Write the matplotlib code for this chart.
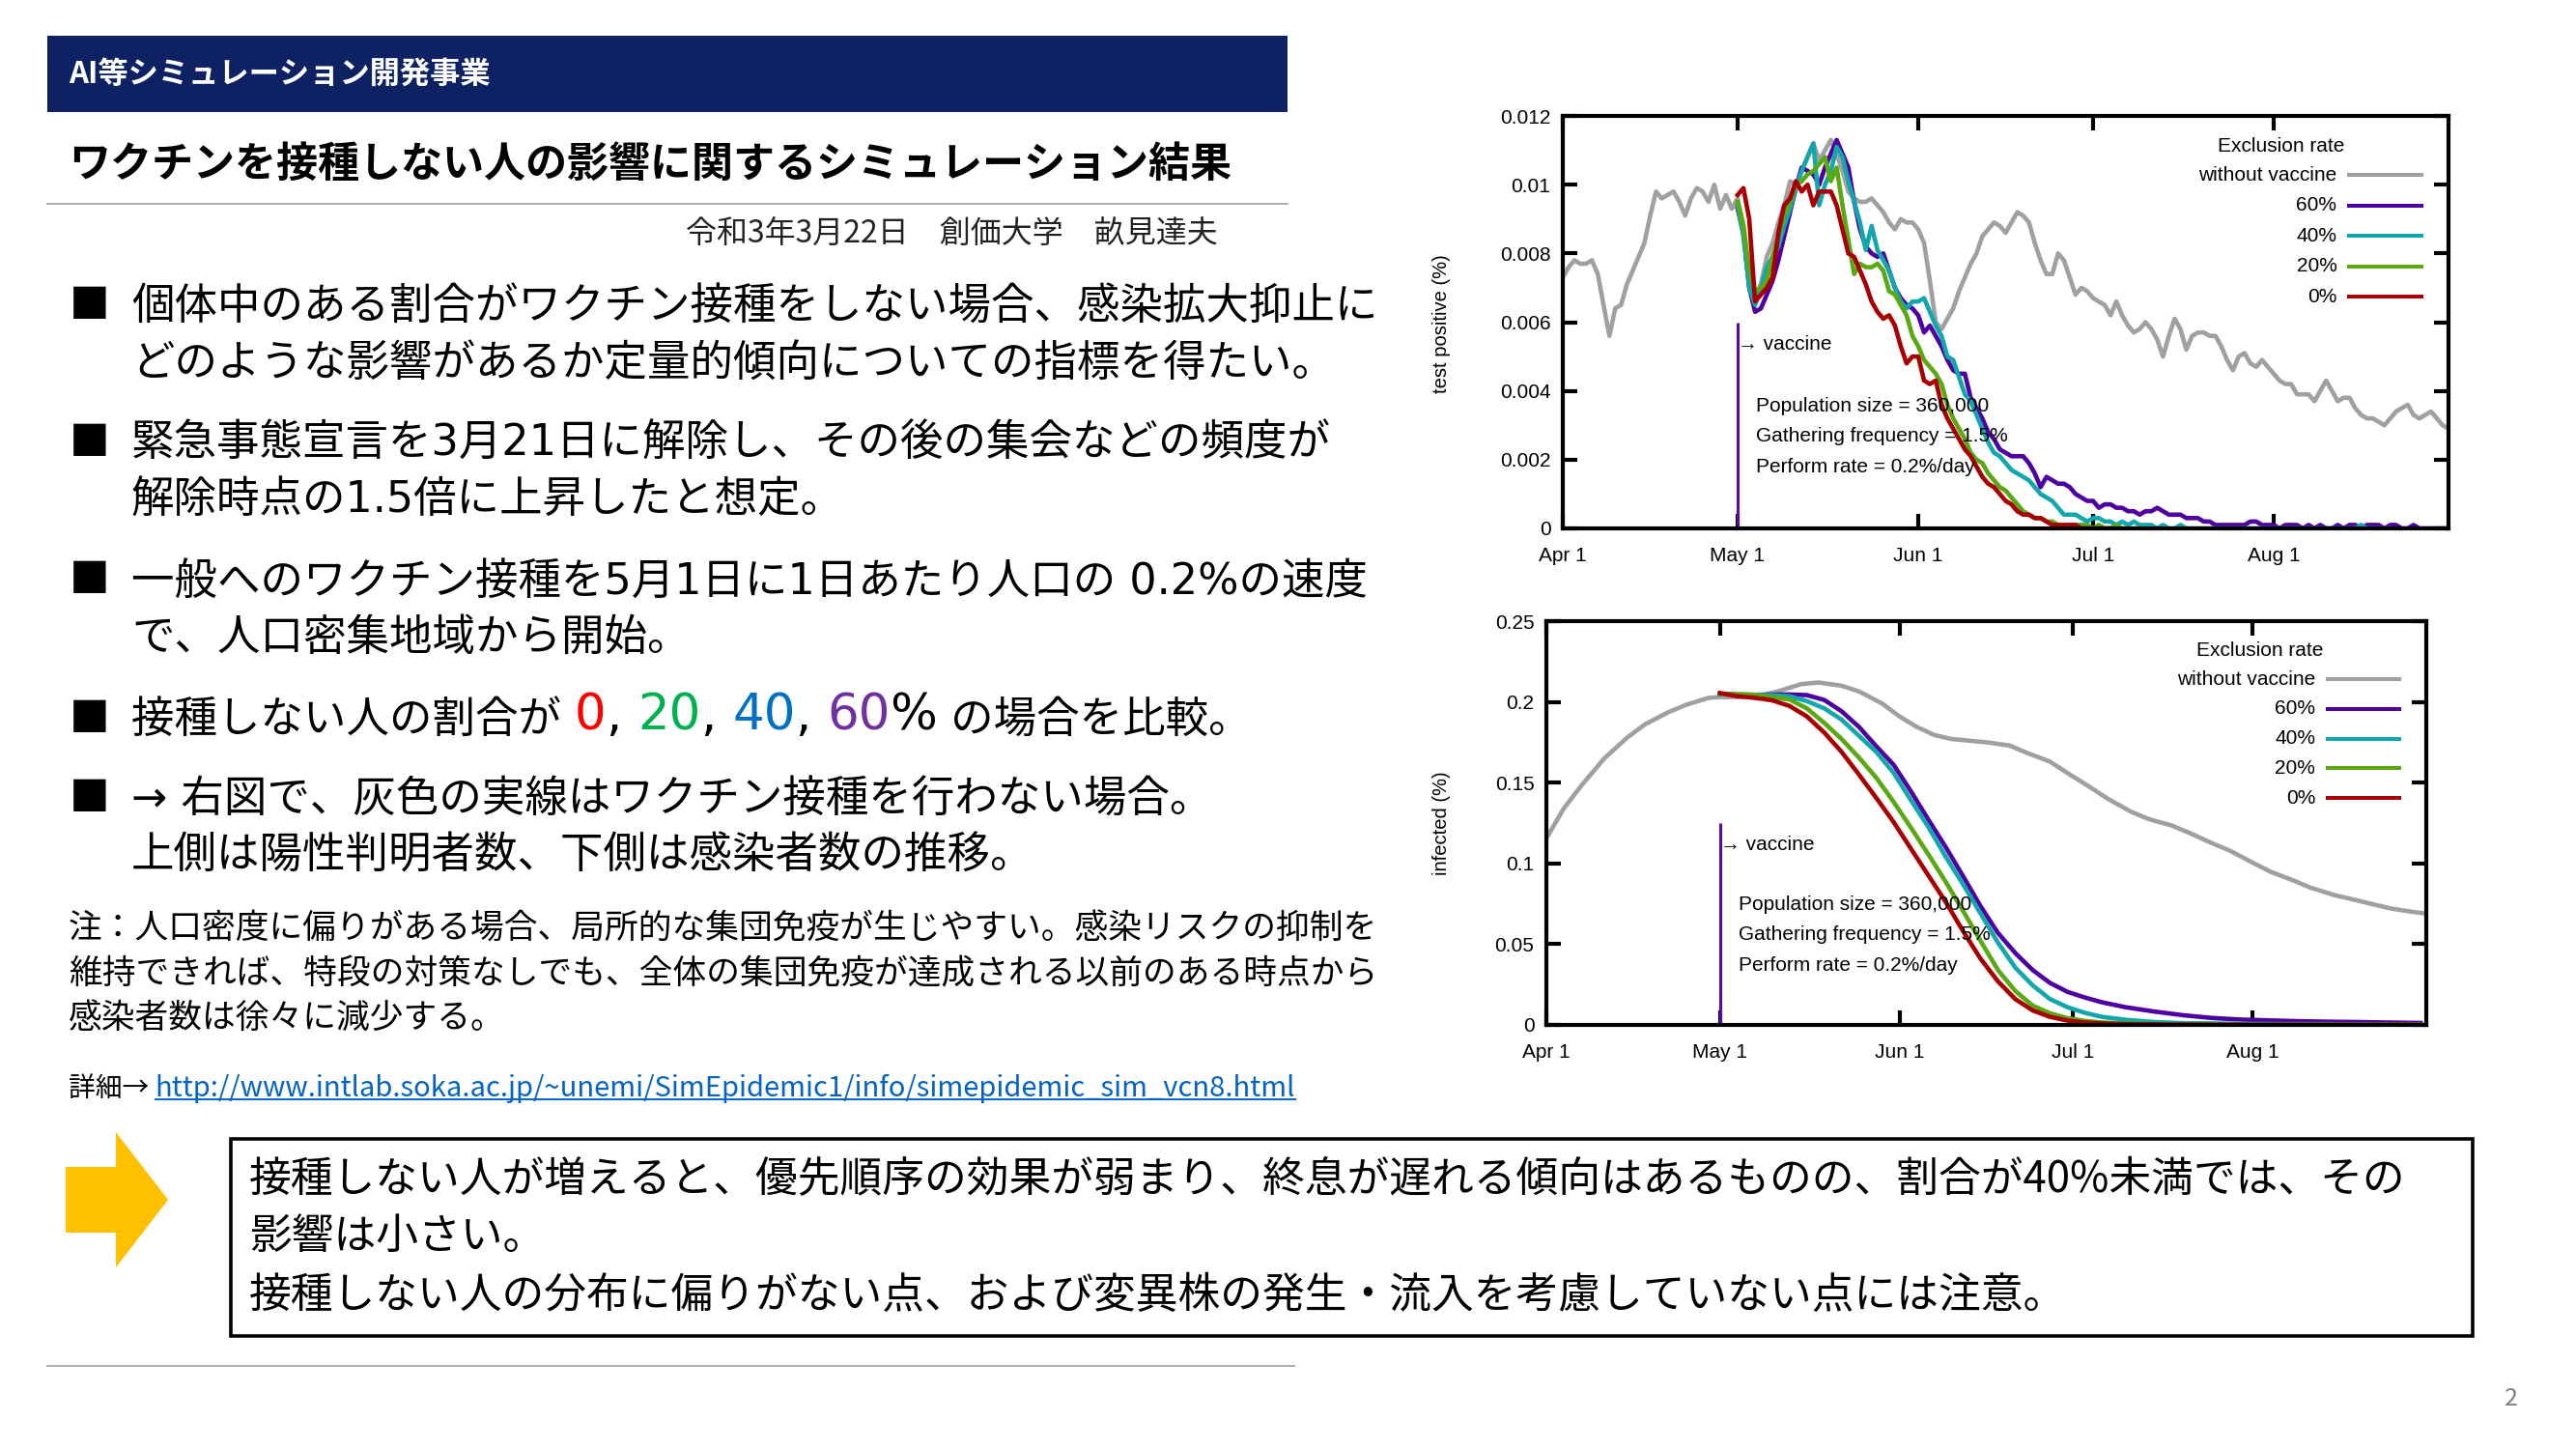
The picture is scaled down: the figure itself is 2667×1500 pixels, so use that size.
import numpy as np
import matplotlib.pyplot as plt
from matplotlib.patches import Rectangle, Polygon

plt.rcParams['font.family'] = ['Noto Sans CJK JP', 'DejaVu Sans']

W, H = 2667, 1500

# ---------------- chart data ----------------
month_days = [0, 30, 61, 91, 122]
month_labels = ['Apr 1', 'May 1', 'Jun 1', 'Jul 1', 'Aug 1']
vaccine_day = 30

legend_names = ['without vaccine', '60%', '40%', '20%', '0%']
line_colors = ['#a0a0a0', '#4f00a0', '#12a7ad', '#5aa812', '#a80000']

# top chart: test positive (%), one value per day from Apr 1
pos_nov = [0.0073, 0.0076, 0.0078, 0.0077, 0.0077, 0.0078, 0.0074, 0.0065, 0.0056, 0.0064,
           0.0065, 0.0071, 0.0075, 0.0079, 0.0083, 0.0091, 0.0098, 0.0096, 0.0097, 0.0098,
           0.0095, 0.0091, 0.0096, 0.0099, 0.0098, 0.0095, 0.0100, 0.0093, 0.0097, 0.0093,
           0.0096, 0.0088, 0.0072, 0.0068, 0.0071, 0.0079, 0.0083, 0.0089, 0.0094, 0.0101,
           0.0100, 0.0104, 0.0108, 0.0112, 0.0107, 0.0110, 0.0113, 0.0109, 0.0104, 0.0098,
           0.0096, 0.0095, 0.0095, 0.0096, 0.0094, 0.0092, 0.0089, 0.0087, 0.0090, 0.0089,
           0.0089, 0.0087, 0.0083, 0.0072, 0.0060, 0.0058, 0.0061, 0.0064, 0.0069, 0.0073,
           0.0077, 0.0080, 0.0085, 0.0087, 0.0089, 0.0088, 0.0086, 0.0089, 0.0092, 0.0091,
           0.0089, 0.0083, 0.0078, 0.0074, 0.0074, 0.0080, 0.0078, 0.0073, 0.0068, 0.0070,
           0.0069, 0.0067, 0.0066, 0.0065, 0.0062, 0.0066, 0.0062, 0.0059, 0.0057, 0.0058,
           0.0060, 0.0058, 0.0055, 0.0050, 0.0056, 0.0061, 0.0058, 0.0052, 0.0056, 0.0057,
           0.0057, 0.0056, 0.0056, 0.0053, 0.0049, 0.0046, 0.0050, 0.0051, 0.0048, 0.0047,
           0.0049, 0.0047, 0.0045, 0.0043, 0.0042, 0.0042, 0.0039, 0.0039, 0.0039, 0.0037,
           0.0040, 0.0043, 0.0040, 0.0037, 0.0038, 0.0038, 0.0035, 0.0033, 0.0032, 0.0032,
           0.0031, 0.0030, 0.0032, 0.0034, 0.0035, 0.0036, 0.0033, 0.0032, 0.0033, 0.0034,
           0.0032, 0.0030, 0.0029]

# vaccinated runs, one value per day from May 1
pos_60 = [0.0093, 0.0086, 0.0070, 0.0063, 0.0064, 0.0068, 0.0072, 0.0078, 0.0085, 0.0092,
          0.0099, 0.0105, 0.0104, 0.0103, 0.0100, 0.0105, 0.0109, 0.0113, 0.0109, 0.0105,
          0.0095, 0.0087, 0.0082, 0.0080, 0.0079, 0.0080, 0.0075, 0.0070, 0.0067, 0.0065,
          0.0064, 0.0062, 0.0057, 0.0059, 0.0056, 0.0053, 0.0049, 0.0046, 0.0045, 0.0045,
          0.0038, 0.0035, 0.0032, 0.0028, 0.0026, 0.0023, 0.0022, 0.0021, 0.0021, 0.0021,
          0.0019, 0.0016, 0.0012, 0.0015, 0.0014, 0.0013, 0.0013, 0.0012, 0.0010, 0.0009,
          0.0008, 0.0008, 0.0006, 0.0007, 0.0007, 0.0006, 0.0006, 0.0005, 0.0005, 0.0004,
          0.0005, 0.0005, 0.0006, 0.0005, 0.0004, 0.0004, 0.0004, 0.0003, 0.0003, 0.0003,
          0.0002, 0.0002, 0.0001, 0.0001, 0.0001, 0.0001, 0.0001, 0.0001, 0.0002, 0.0002,
          0.0001, 0.0001, 0.0001, 0.0000, 0.0001, 0.0001, 0.0001, 0.0000, 0.0001, 0.0000,
          0.0001, 0.0000, 0.0000, 0.0001, 0.0000, 0.0001, 0.0001, 0.0000, 0.0001, 0.0001,
          0.0001, 0.0000, 0.0001, 0.0001, 0.0000, 0.0000, 0.0001, 0.0000, 0.0000, 0.0000,
          0.0000, 0.0000, 0.0000]
pos_40 = [0.0094, 0.0085, 0.0070, 0.0065, 0.0070, 0.0076, 0.0079, 0.0082, 0.0088, 0.0093,
          0.0099, 0.0104, 0.0108, 0.0112, 0.0094, 0.0100, 0.0104, 0.0111, 0.0108, 0.0101,
          0.0095, 0.0089, 0.0081, 0.0088, 0.0081, 0.0078, 0.0075, 0.0070, 0.0066, 0.0064,
          0.0066, 0.0066, 0.0067, 0.0063, 0.0059, 0.0056, 0.0050, 0.0049, 0.0044, 0.0039,
          0.0037, 0.0033, 0.0029, 0.0025, 0.0022, 0.0021, 0.0019, 0.0017, 0.0016, 0.0015,
          0.0014, 0.0012, 0.0010, 0.0009, 0.0008, 0.0006, 0.0004, 0.0004, 0.0004, 0.0003,
          0.0002, 0.0003, 0.0003, 0.0002, 0.0002, 0.0001, 0.0002, 0.0001, 0.0002, 0.0001,
          0.0001, 0.0001, 0.0000, 0.0001, 0.0000, 0.0000, 0.0001, 0.0000, 0.0000, 0.0000,
          0.0000, 0.0000, 0.0000, 0.0000, 0.0000, 0.0000, 0.0000, 0.0000, 0.0000, 0.0000,
          0.0000, 0.0000, 0.0000, 0.0000, 0.0000, 0.0000, 0.0000, 0.0000, 0.0000, 0.0000,
          0.0000, 0.0000, 0.0000, 0.0000, 0.0000, 0.0000, 0.0000, 0.0001, 0.0000, 0.0000,
          0.0000, 0.0000, 0.0000]
pos_20 = [0.0095, 0.0088, 0.0075, 0.0069, 0.0070, 0.0072, 0.0079, 0.0085, 0.0091, 0.0095,
          0.0100, 0.0101, 0.0103, 0.0104, 0.0106, 0.0108, 0.0101, 0.0105, 0.0094, 0.0084,
          0.0074, 0.0077, 0.0076, 0.0076, 0.0077, 0.0075, 0.0069, 0.0068, 0.0065, 0.0062,
          0.0056, 0.0053, 0.0049, 0.0047, 0.0045, 0.0042, 0.0036, 0.0032, 0.0029, 0.0026,
          0.0022, 0.0020, 0.0019, 0.0016, 0.0014, 0.0012, 0.0011, 0.0009, 0.0007, 0.0005,
          0.0004, 0.0003, 0.0003, 0.0002, 0.0002, 0.0001, 0.0001, 0.0001, 0.0001, 0.0001,
          0.0001, 0.0000, 0.0001, 0.0000, 0.0000, 0.0001, 0.0000, 0.0000, 0.0000, 0.0000]
pos_0 = [0.0097, 0.0099, 0.0090, 0.0066, 0.0068, 0.0070, 0.0073, 0.0086, 0.0094, 0.0096,
         0.0101, 0.0098, 0.0100, 0.0094, 0.0098, 0.0098, 0.0098, 0.0094, 0.0087, 0.0080,
         0.0079, 0.0075, 0.0071, 0.0066, 0.0063, 0.0061, 0.0062, 0.0059, 0.0053, 0.0048,
         0.0050, 0.0050, 0.0043, 0.0042, 0.0043, 0.0036, 0.0032, 0.0029, 0.0026, 0.0023,
         0.0021, 0.0018, 0.0015, 0.0013, 0.0012, 0.0010, 0.0008, 0.0007, 0.0005, 0.0004,
         0.0004, 0.0003, 0.0003, 0.0002, 0.0001, 0.0001, 0.0001, 0.0001, 0.0001, 0.0000,
         0.0000, 0.0000, 0.0000, 0.0000, 0.0000]

# bottom chart: infected (%)
inf_nov_days = [0, 3, 6, 10, 14, 17, 21, 24, 28, 30, 33, 37, 40, 44, 47, 51, 54, 58, 61, 64,
                67, 70, 73, 76, 80, 83, 87, 90, 94, 97, 101, 104, 108, 111, 115, 118, 122, 125,
                129, 132, 136, 139, 143, 146, 150, 152]
inf_nov = [0.1155, 0.134, 0.148, 0.165, 0.178, 0.186, 0.1935, 0.198, 0.2025, 0.203,
           0.203, 0.204, 0.2065, 0.211, 0.212, 0.210, 0.2065, 0.199, 0.191, 0.1845,
           0.1795, 0.177, 0.176, 0.175, 0.173, 0.1685, 0.163, 0.156, 0.147, 0.140,
           0.132, 0.1275, 0.1235, 0.119, 0.1125, 0.108, 0.1005, 0.095, 0.0895, 0.085,
           0.0805, 0.078, 0.0745, 0.072, 0.0698, 0.069]
inf_days = [30, 33, 36, 39, 42, 45, 48, 51, 54, 57, 60, 63, 66, 69, 72, 75, 78, 81, 84, 87,
            90, 93, 96, 100, 105, 110, 115, 120, 125, 130, 135, 140, 145, 151]
inf_60 = [0.2048, 0.2045, 0.2044, 0.2045, 0.2046, 0.2042, 0.2012, 0.1942, 0.1845, 0.1725,
          0.1610, 0.1445, 0.1270, 0.1100, 0.0920, 0.0735, 0.0570, 0.0445, 0.0340, 0.0260,
          0.0205, 0.0170, 0.0140, 0.0110, 0.0083, 0.0060, 0.0043, 0.0033, 0.0028, 0.0023,
          0.0020, 0.0018, 0.0015, 0.0012]
inf_40 = [0.2048, 0.2045, 0.2042, 0.2042, 0.2035, 0.2005, 0.1960, 0.1890, 0.1790, 0.1690,
          0.1560, 0.1390, 0.1225, 0.1040, 0.0870, 0.0690, 0.0510, 0.0355, 0.0245, 0.0160,
          0.0110, 0.0075, 0.0050, 0.0032, 0.0018, 0.0011, 0.0009, 0.0007, 0.0006, 0.0005,
          0.0005, 0.0004, 0.0004, 0.0004]
inf_20 = [0.2050, 0.2048, 0.2044, 0.2030, 0.2015, 0.1960, 0.1870, 0.1770, 0.1655, 0.1530,
          0.1380, 0.1220, 0.1055, 0.0885, 0.0705, 0.0520, 0.0340, 0.0210, 0.0120, 0.0072,
          0.0042, 0.0025, 0.0015, 0.0009, 0.0005, 0.0003, 0.0002, 0.0001, 0.0001, 0.0001,
          0.0001, 0.0001, 0.0001, 0.0001]
inf_0 = [0.2055, 0.2035, 0.2025, 0.2010, 0.1975, 0.1910, 0.1810, 0.1690, 0.1550, 0.1405,
         0.1255, 0.1090, 0.0925, 0.0760, 0.0580, 0.0410, 0.0270, 0.0160, 0.0090, 0.0050,
         0.0027, 0.0015, 0.0009, 0.0005, 0.0003, 0.0002, 0.0001, 0.0001, 0.0001, 0.0001,
         0.0001, 0.0001, 0.0001, 0.0001]

param_texts = ['Population size = 360,000', 'Gathering frequency = 1.5%', 'Perform rate = 0.2%/day']

# ---------------- slide text ----------------
header = 'AI等シミュレーション開発事業'
title = 'ワクチンを接種しない人の影響に関するシミュレーション結果'
date_line = '令和3年3月22日　創価大学　畝見達夫'
bullets = [
    ['個体中のある割合がワクチン接種をしない場合、感染拡大抑止に',
     'どのような影響があるか定量的傾向についての指標を得たい。'],
    ['緊急事態宣言を3月21日に解除し、その後の集会などの頻度が',
     '解除時点の1.5倍に上昇したと想定。'],
    ['一般へのワクチン接種を5月1日に1日あたり人口の 0.2%の速度',
     'で、人口密集地域から開始。'],
    None,
    ['→ 右図で、灰色の実線はワクチン接種を行わない場合。',
     '上側は陽性判明者数、下側は感染者数の推移。'],
]
# (text, colour, font size)
compare_parts = [('接種しない人の割合が ', 'black', 32), ('0', '#ff0000', 37),
                 (', ', 'black', 37), ('20', '#00b050', 37), (', ', 'black', 37),
                 ('40', '#0070c0', 37), (', ', 'black', 37), ('60', '#7030a0', 37),
                 ('%', 'black', 37), (' の場合を比較。', 'black', 32)]
note_lines = ['注：人口密度に偏りがある場合、局所的な集団免疫が生じやすい。感染リスクの抑制を',
              '維持できれば、特段の対策なしでも、全体の集団免疫が達成される以前のある時点から',
              '感染者数は徐々に減少する。']
url = 'http://www.intlab.soka.ac.jp/~unemi/SimEpidemic1/info/simepidemic_sim_vcn8.html'
box_lines = ['接種しない人が増えると、優先順序の効果が弱まり、終息が遅れる傾向はあるものの、割合が40%未満では、その',
             '影響は小さい。',
             '接種しない人の分布に偏りがない点、および変異株の発生・流入を考慮していない点には注意。']

fig = plt.figure(figsize=(W / 100, H / 100), dpi=100)

# background axes in pixel coordinates
bg = fig.add_axes([0, 0, 1, 1])
bg.set_xlim(0, W)
bg.set_ylim(H, 0)
bg.axis('off')
bg.set_autoscale_on(False)

bullet_font = ['DejaVu Sans', 'Noto Sans CJK JP']

bg.add_patch(Rectangle((49, 37), 1333 - 49, 116 - 37, color='#0d2163', lw=0))
bg.text(71, 77, header, color='white', fontsize=22.5, fontweight='bold', va='center')
bg.text(71, 170, title, color='black', fontsize=31, fontweight='bold', va='center')
bg.plot([49, 1333], [211, 211], color='#a6a6a6', lw=1.3)
bg.text(1261, 243, date_line, fontsize=23, ha='right', va='center', color='#222222')

line_y = [(318, 376), (459, 517), (602, 660), (745,), (828, 886)]
for b, ys in zip(bullets, line_y):
    bg.text(72, ys[0], '■', fontsize=30, va='center')
    if b is None:
        s, c, fs = compare_parts[0]
        t = bg.text(136, ys[0], s, fontsize=fs, va='center', color=c, family=bullet_font)
        for s, c, fs in compare_parts[1:]:
            t = bg.annotate(s, xy=(1, 0), xycoords=t, fontsize=fs, va='bottom',
                            ha='left', color=c, family=bullet_font)
        continue
    for s, y in zip(b, ys):
        bg.text(136, y, s, fontsize=32, va='center', family=bullet_font)

for s, y in zip(note_lines, [962, 1008, 1054]):
    bg.text(71, y, s, fontsize=25, va='center')

lead = bg.text(71, 1127, '詳細→ ', fontsize=20, va='center')
link = bg.annotate(url, xy=(1, 0), xycoords=lead, fontsize=21, va='bottom', ha='left',
                   color='#0563c1')

# arrow and conclusion box
bg.add_patch(Polygon([(68, 1208), (120, 1208), (120, 1172), (174, 1242), (120, 1312),
                      (120, 1276), (68, 1276)], closed=True, color='#ffc000', lw=0))
bg.add_patch(Rectangle((239, 1179), 2560 - 239, 1383 - 1179, fill=False, ec='black', lw=2.6))
for s, y in zip(box_lines, [1221, 1280, 1341]):
    bg.text(258, y, s, fontsize=31.5, va='center')

bg.plot([49, 1340], [1414, 1414], color='#a6a6a6', lw=1.3)
bg.text(2600, 1448, '2', fontsize=18, color='#808080', ha='center', va='center')

# ---------------- charts ----------------
chart_font = ['Liberation Sans', 'DejaVu Sans']


def draw_chart(ax, ymax, yticks, ylabels, nov_x, nov_y, runs):
    ax.plot(nov_x, nov_y, color=line_colors[0], lw=3.3, zorder=2)
    for (xs, ys), c in zip(runs, line_colors[1:]):
        ax.plot(xs, ys, color=c, lw=3.3, zorder=2)
    ax.vlines(vaccine_day, 0, ymax * 0.5, color='#5a0aa0', lw=2.2, zorder=2)
    ax.text(vaccine_day, ymax * 0.445, '→ vaccine', fontsize=15, va='center',
            ha='left', family=chart_font)
    for i, s in enumerate(param_texts):
        ax.text(0.218, 0.297 - i * 0.0745, s, transform=ax.transAxes, fontsize=15,
                va='center', ha='left', family=chart_font)
    # legend, drawn in the gnuplot way
    ax.text(0.811, 0.927, 'Exclusion rate', transform=ax.transAxes, fontsize=15,
            ha='center', va='center', family=chart_font)
    for i, (n, c) in enumerate(zip(legend_names, line_colors)):
        y = 0.856 - i * 0.0735
        ax.text(0.874, y, n, transform=ax.transAxes, fontsize=15, ha='right',
                va='center', family=chart_font)
        ax.plot([0.888, 0.969], [y, y], transform=ax.transAxes, color=c, lw=2.9)
    ax.set_xlim(0, 152)
    ax.set_ylim(0, ymax)
    ax.set_xticks(month_days)
    ax.set_xticklabels(month_labels)
    ax.set_yticks(yticks)
    ax.set_yticklabels(ylabels)
    for sp in ax.spines.values():
        sp.set_linewidth(3.0)
        sp.set_zorder(3)
    ax.tick_params(direction='in', length=11, width=3, top=True, right=True, labelsize=15)
    ax.tick_params(axis='x', pad=14)
    ax.tick_params(axis='y', pad=9)
    for lab in ax.get_xticklabels() + ax.get_yticklabels():
        lab.set_family(chart_font)


ax1 = fig.add_axes([1618 / W, 1 - 547 / H, (2535 - 1618) / W, (547 - 120) / H])
top_runs = [(np.arange(vaccine_day, vaccine_day + len(v)), v)
            for v in [pos_60, pos_40, pos_20, pos_0]]
draw_chart(ax1, 0.012, [0, 0.002, 0.004, 0.006, 0.008, 0.010, 0.012],
           ['0', '0.002', '0.004', '0.006', '0.008', '0.01', '0.012'],
           np.arange(len(pos_nov)), pos_nov, top_runs)

ax2 = fig.add_axes([1601 / W, 1 - 1061 / H, (2512 - 1601) / W, (1061 - 643) / H])
bottom_runs = [(inf_days, v) for v in [inf_60, inf_40, inf_20, inf_0]]
draw_chart(ax2, 0.25, [0, 0.05, 0.10, 0.15, 0.20, 0.25],
           ['0', '0.05', '0.1', '0.15', '0.2', '0.25'],
           inf_nov_days, inf_nov, bottom_runs)

fig.text(1493 / W, 1 - 335 / H, 'test positive (%)', rotation=90, ha='center', va='center',
         fontsize=14.5, family=chart_font)
fig.text(1493 / W, 1 - 852 / H, 'infected (%)', rotation=90, ha='center', va='center',
         fontsize=14.5, family=chart_font)

# underline the link
fig.canvas.draw()
bb = link.get_window_extent()
inv = bg.transData.inverted()
(x0, yb), (x1, yt) = inv.transform([[bb.x0, bb.y0], [bb.x1, bb.y1]])
yu = yb - (yb - yt) * 0.14
bg.plot([x0, x1], [yu, yu], color='#0563c1', lw=1.4)

fig.savefig('out.png', dpi=100)
